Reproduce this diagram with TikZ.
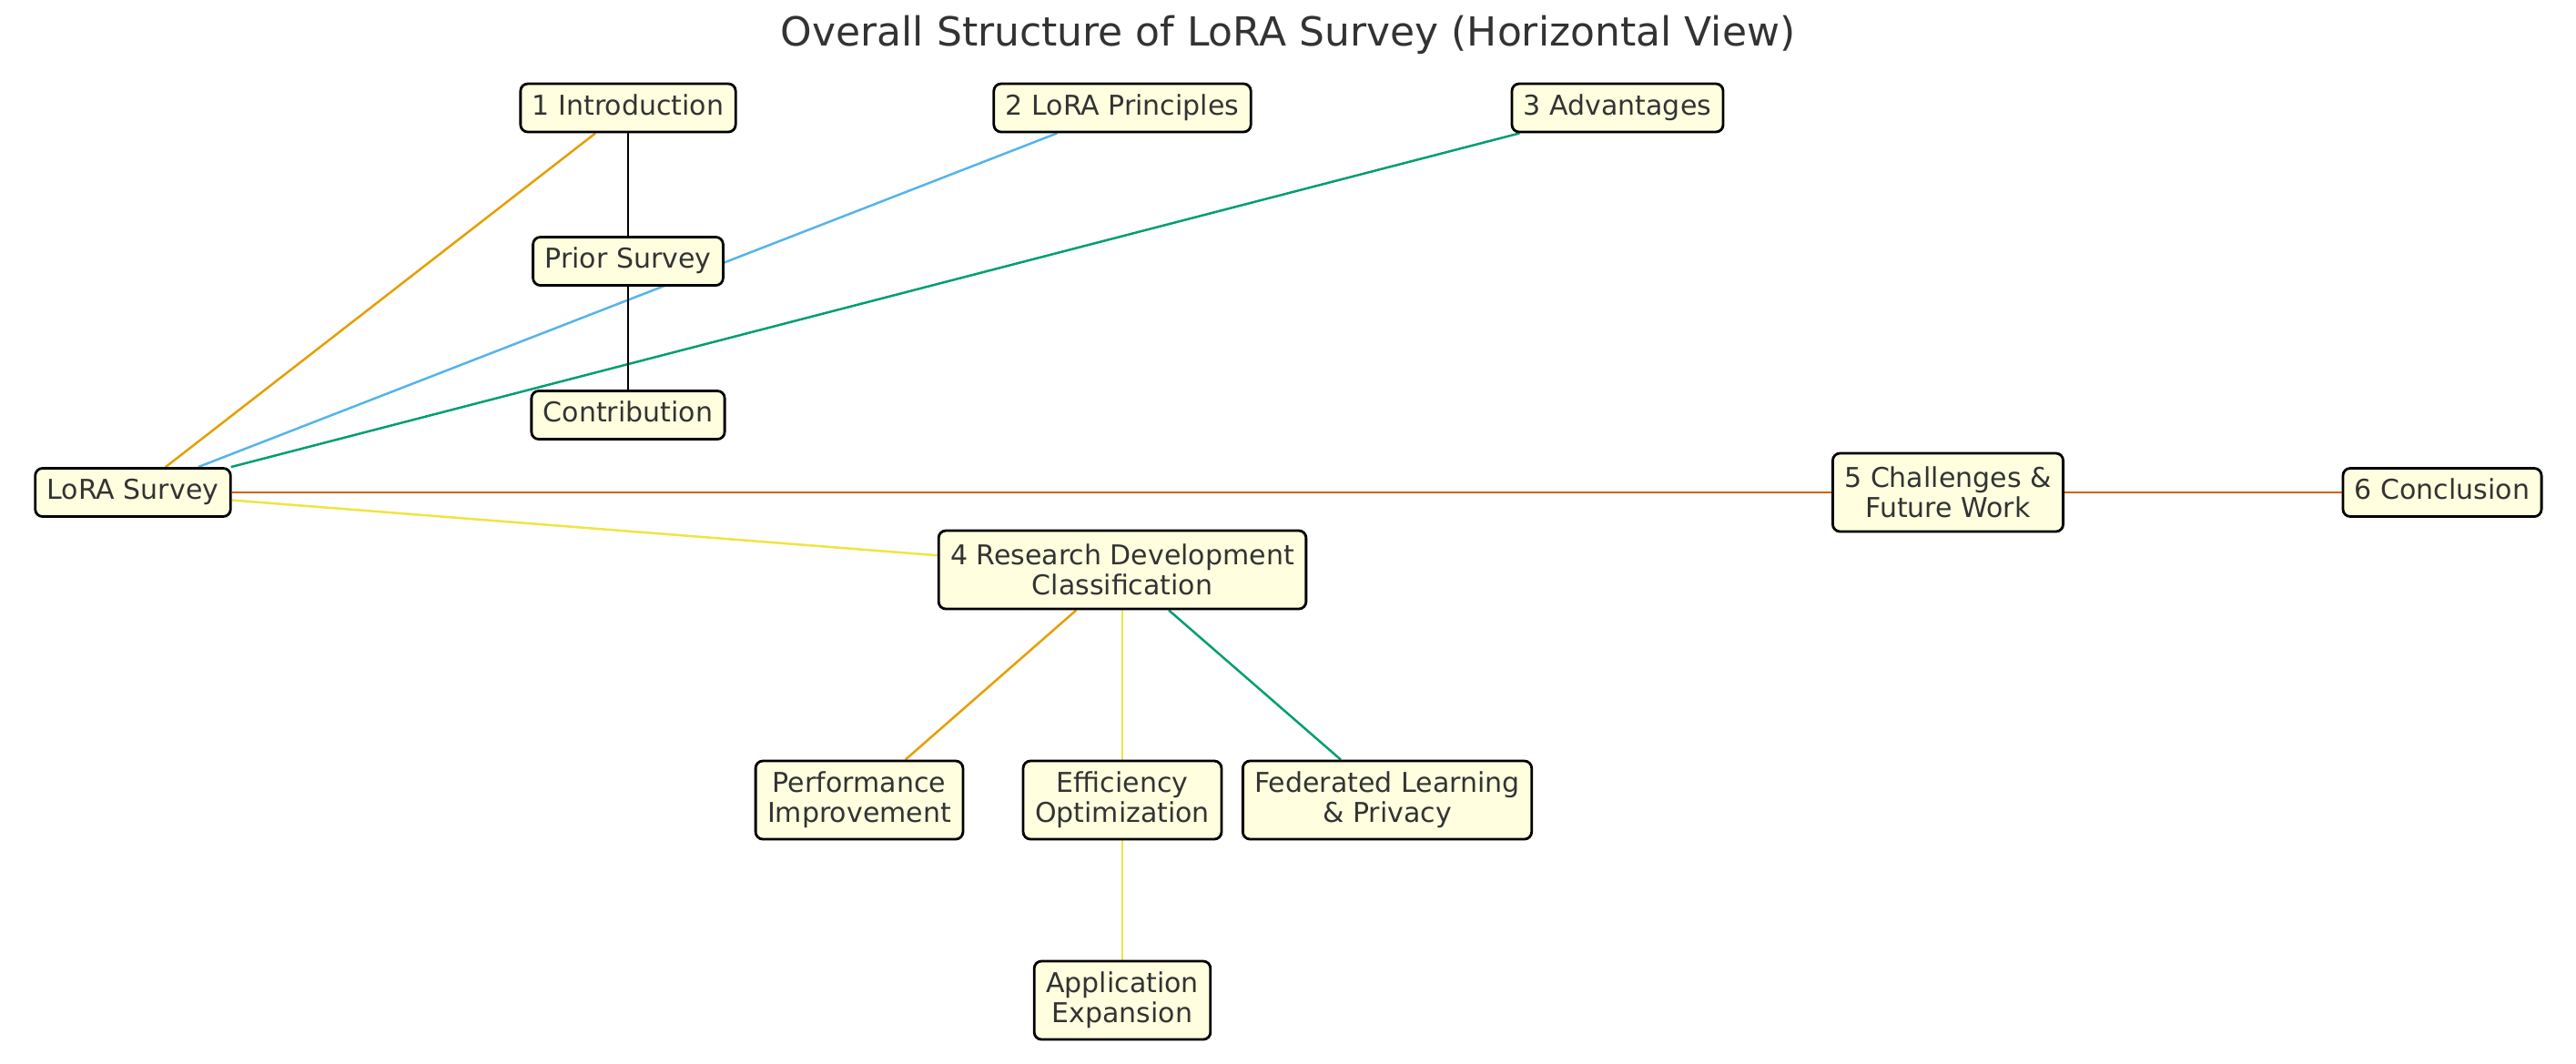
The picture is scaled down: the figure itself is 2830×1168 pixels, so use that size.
\documentclass[tikz,border=0pt]{standalone}
\usepackage{fontspec}
\setmainfont{DejaVu Sans}
\usetikzlibrary{backgrounds}
\definecolor{boxfill}{HTML}{FFFFE0}
\definecolor{txt}{HTML}{333333}
\definecolor{cOrange}{HTML}{E69F00}
\definecolor{cBlue}{HTML}{56B4E9}
\definecolor{cGreen}{HTML}{009E73}
\definecolor{cYellow}{HTML}{F0E442}
\definecolor{cVerm}{HTML}{D55E00}
\begin{document}
\begin{tikzpicture}[x=0.5pt,y=-0.5pt,
  boxbase/.style={draw=black, line width=1.4pt, fill=boxfill, rounded corners=4pt,
    text=txt, font=\fontsize{15}{16.5}\selectfont, align=center,
    inner xsep=6.5pt, inner ysep=0pt},
  box/.style={boxbase, text height=11pt, text depth=3.2pt, minimum height=26.5pt},
  boxtwo/.style={boxbase, minimum height=43pt},
  link/.style={line width=1.25pt}]
\useasboundingbox (0,0) rectangle (2830,1168);
\node[text=txt, font=\fontsize{22}{26}\selectfont] (title) at (1415,38) {Overall Structure of LoRA Survey (Horizontal View)};

\node[box] (intro) at (690,118.5) {1 Introduction};
\node[box] (princ) at (1233,118.5) {2 LoRA Principles};
\node[box] (adv) at (1777,118.5) {3 Advantages};
\node[box] (prior) at (690,287) {Prior Survey};
\node[box] (contrib) at (690,456) {Contribution};
\node[box] (root) at (146,541) {LoRA Survey};
\node[boxtwo] (chal) at (2140,541) {5 Challenges \&\\Future Work};
\node[box] (concl) at (2683,541) {6 Conclusion};
\node[boxtwo] (res) at (1233,626) {4 Research Development\\Classification};
\node[boxtwo] (perf) at (944,879) {Performance\\Improvement};
\node[boxtwo] (eff) at (1233,879) {Efficiency\\Optimization};
\node[boxtwo] (fed) at (1524,879) {Federated Learning\\\& Privacy};
\node[boxtwo] (app) at (1233,1099) {Application\\Expansion};

\begin{scope}[on background layer]
\draw[link,cOrange] (root) -- (intro);
\draw[link,cBlue] (root) -- (princ);
\draw[link,cGreen] (root) -- (adv);
\draw[link,cYellow] (root) -- (res);
\draw[link,cVerm] (root) -- (chal);
\draw[link,cVerm] (chal) -- (concl);
\draw[link,black] (intro) -- (prior);
\draw[link,black] (prior) -- (contrib);
\draw[link,cOrange] (res) -- (perf);
\draw[link,cYellow] (res) -- (eff);
\draw[link,cGreen] (res) -- (fed);
\draw[link,cYellow] (eff) -- (app);
\end{scope}
\end{tikzpicture}
\end{document}
